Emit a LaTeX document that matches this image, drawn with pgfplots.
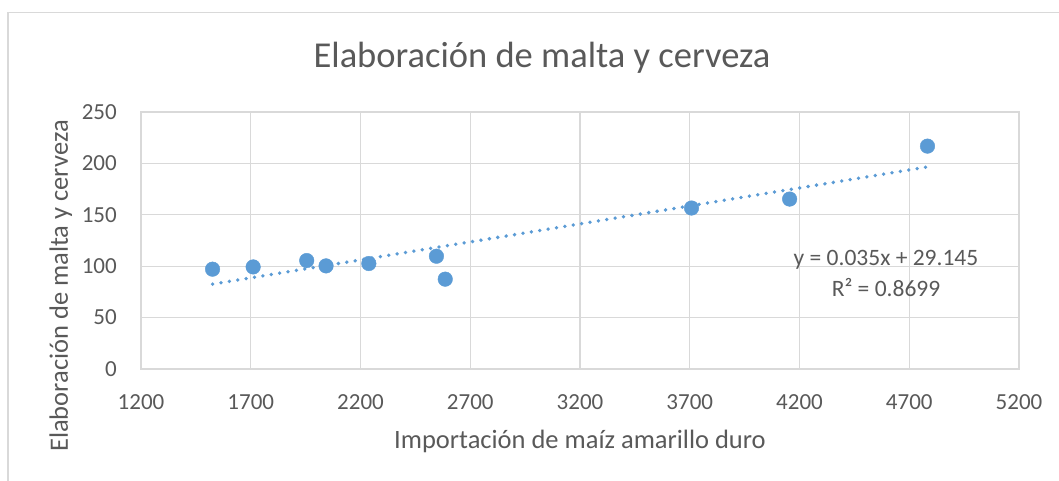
\documentclass[border=0pt]{standalone}
\usepackage{fontspec}
\setmainfont{Carlito}
\usepackage{pgfplots}
\pgfplotsset{compat=1.18}
\definecolor{mblue}{HTML}{5B9BD5}
\definecolor{gridg}{HTML}{D9D9D9}
\definecolor{txtg}{HTML}{595959}
\begin{document}
\begin{tikzpicture}
\path[use as bounding box] (-141pt,-111pt) rectangle (918pt,369pt);
\draw[gridg, line width=1.5pt] (-133pt,-130pt) -- (-133pt,356.3pt) -- (940pt,356.3pt);
\begin{axis}[
  scale only axis, width=878pt, height=257pt,
  xmin=1200, xmax=5200, ymin=0, ymax=250,
  xtick={1200,1700,...,5200}, ytick={0,50,...,250},
  scaled ticks=false,
  /pgf/number format/1000 sep={},
  /pgf/number format/assume math mode=true,
  grid=major, major grid style={gridg, line width=1.3pt},
  axis line style={gridg, line width=1.3pt},
  major tick length=0pt,
  tick label style={font=\fontsize{23}{27}\selectfont, text=txtg},
  xticklabel style={anchor=base, inner sep=0pt, yshift=-40pt},
  yticklabel style={anchor=east, inner sep=0pt, xshift=-24pt},
  clip=false,
]
\addplot[only marks, mark=*, mark size=7.3pt, mark options={fill=mblue, draw=mblue}] coordinates {
(1526,97.1) (1711,99.3) (1955,105.5) (2043,100.3) (2238,102.6)
(2546,109.7) (2586,87.4) (3708,156.6) (4155,165.3) (4783,216.8)
};
\addplot[mblue, line width=3.8pt, line cap=round, dash pattern=on 0pt off 8.5pt] coordinates {
(1526,82.56) (4783,196.55)
};
\end{axis}
\node[anchor=base, text=txtg, font=\fontsize{36.5}{44}\selectfont] at (401pt,301pt) {Elaboración de malta y cerveza};
\node[anchor=base, text=txtg, font=\fontsize{26.5}{32}\selectfont] at (439pt,-79pt) {Importación de maíz amarillo duro};
\node[anchor=base, rotate=90, text=txtg, font=\fontsize{26.5}{32}\selectfont] at (-73pt,83pt) {Elaboración de malta y cerveza};
\node[align=center, text=txtg, font=\fontsize{23.5}{31.7}\selectfont, anchor=base] at (745pt,72.3pt) {y = 0.035x + 29.145\\R² = 0.8699};
\end{tikzpicture}
\end{document}
